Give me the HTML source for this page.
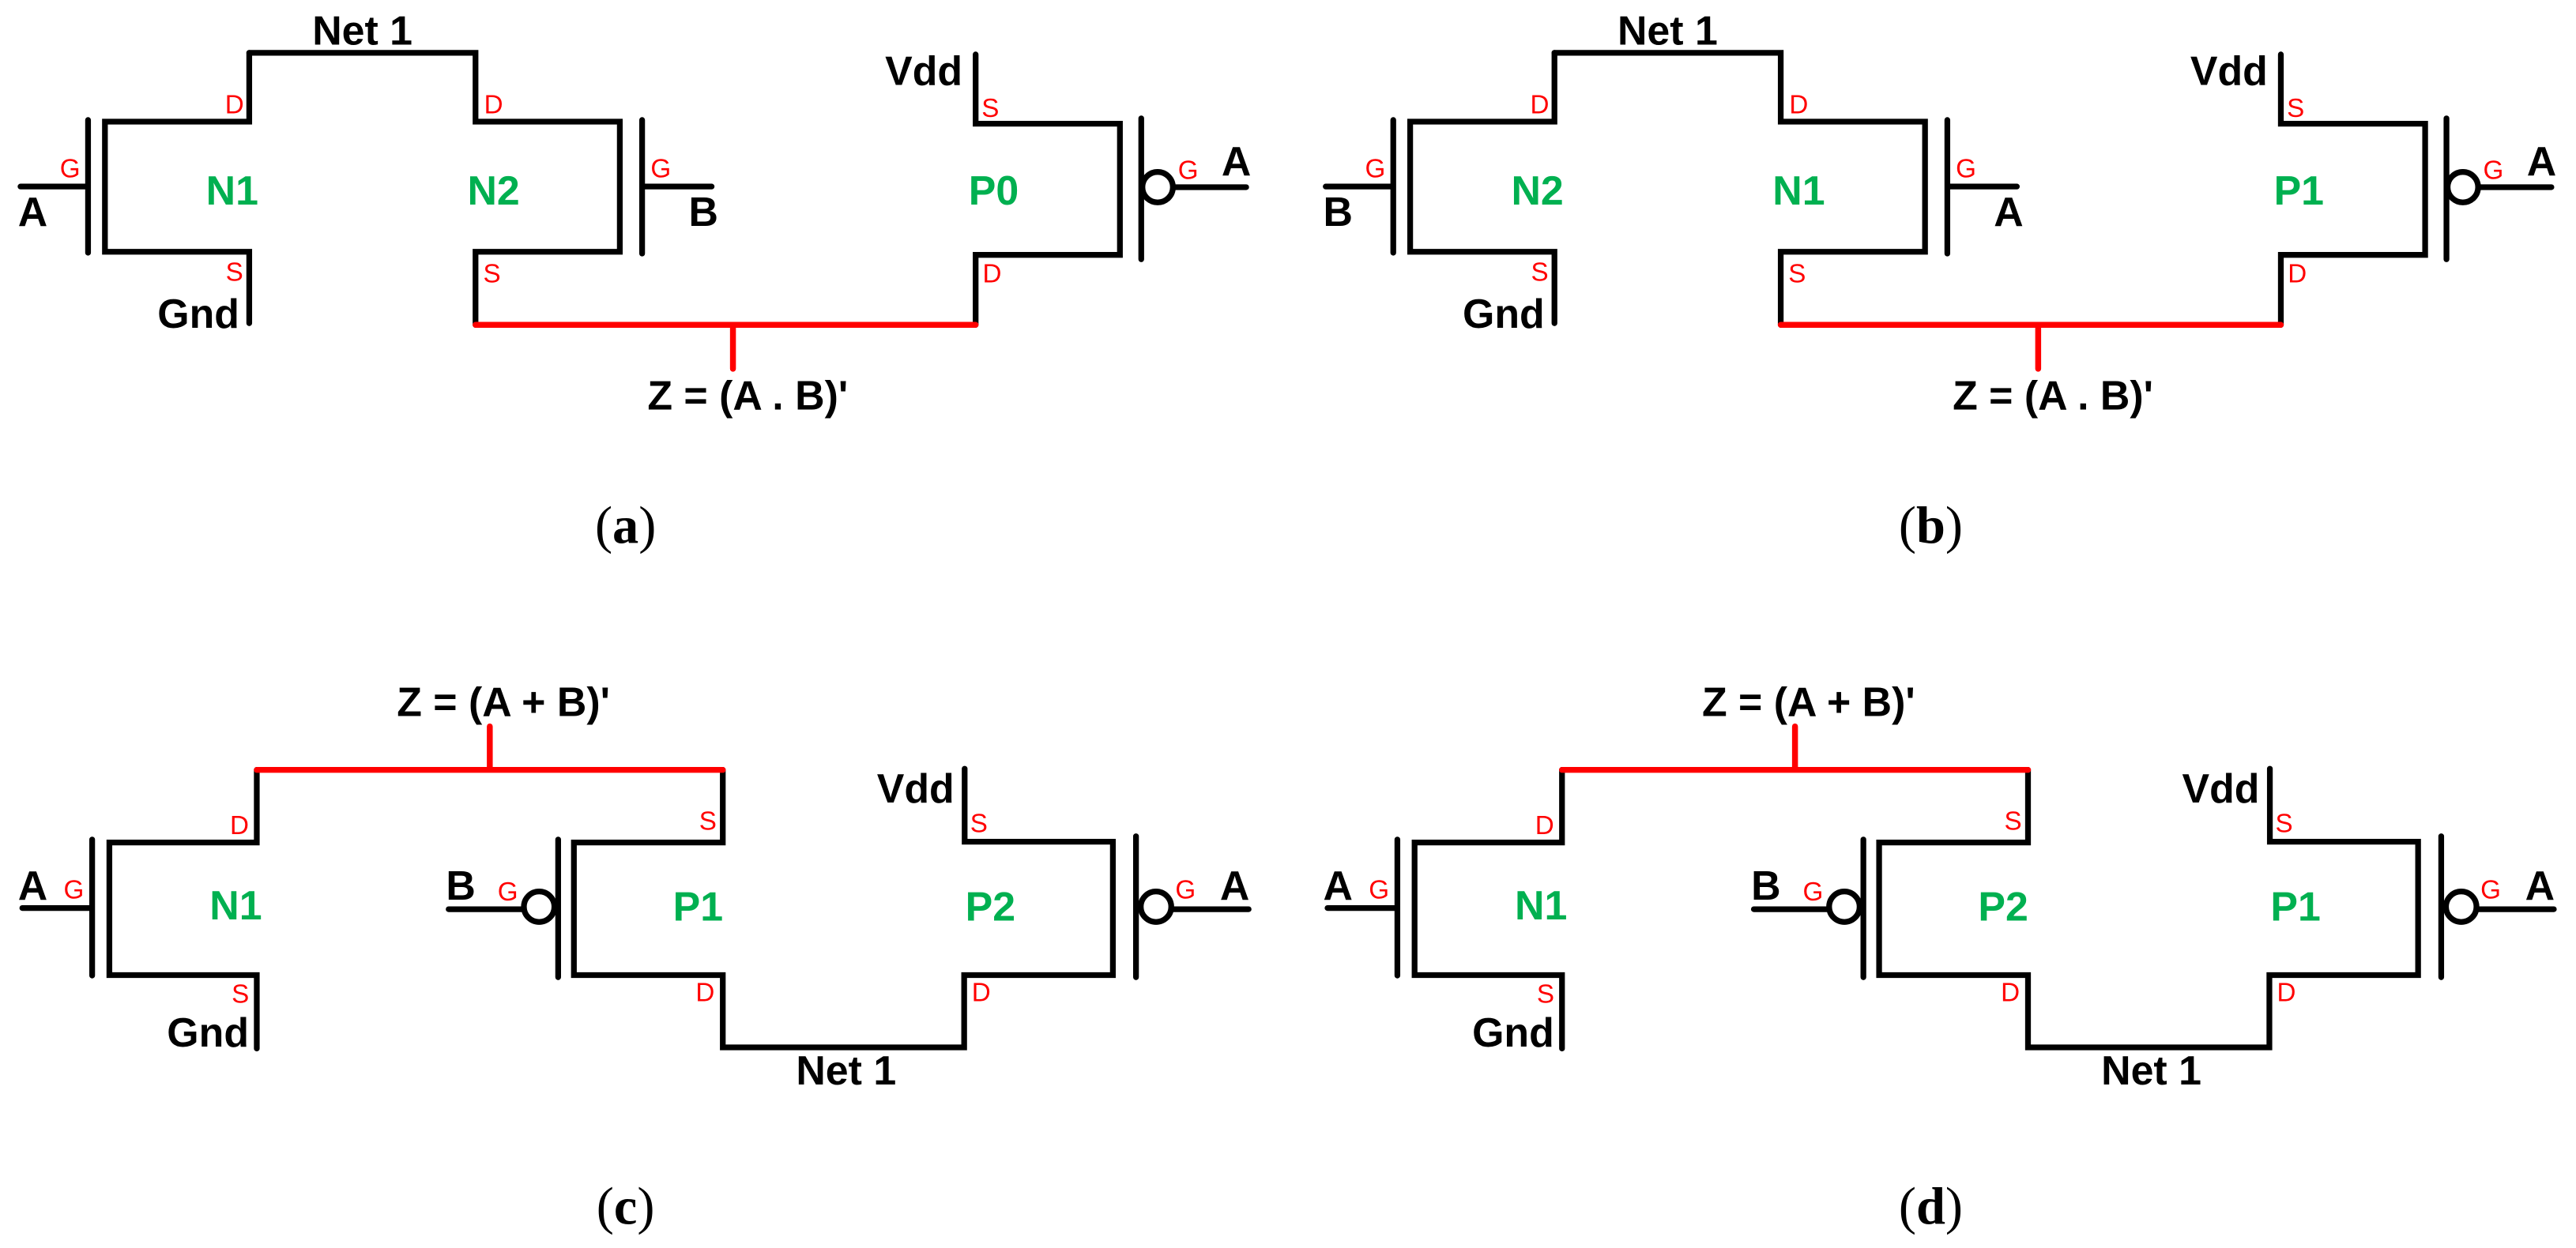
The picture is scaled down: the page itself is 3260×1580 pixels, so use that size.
<!DOCTYPE html>
<html><head><meta charset="utf-8"><style>
html,body{margin:0;padding:0;background:#fff;}
svg{display:block}
text{font-family:"Liberation Sans",sans-serif;}
.b{font-weight:bold;font-size:25px;fill:#000;}
.g{font-weight:bold;font-size:25px;fill:#00B050;}
.r{font-size:16px;fill:#ff0000;}
.cap{font-family:"Liberation Serif",serif;font-size:32px;fill:#000;}
.k{stroke:#000;stroke-width:3.5;fill:none;stroke-linecap:round;stroke-linejoin:miter;}
.red{stroke:#ff0000;stroke-width:3.6;fill:none;stroke-linecap:round;}
</style></head><body>
<svg width="3260" height="1580" viewBox="0 0 1571 761" xmlns="http://www.w3.org/2000/svg">
<defs>
<g id="topwires">
  <path class="k" d="M12.5,113.6 H53.7 M53.7,73 V154 M152,32 V74 H64 V153.4 H152 V197"/>
  <path class="k" d="M152,32 H290 V74 H378 V153.4 H290 V198 M391.6,73 V154.5 M391.6,113.6 H434"/>
  <path class="k" d="M595,33 V75.3 H683 V155.3 H595 V198 M696,72 V158"/>
  <circle cx="706" cy="114" r="9.3" fill="none" stroke="#000" stroke-width="3.5"/>
  <path class="k" d="M715.5,114 H760"/>
  <path class="red" d="M290,198 H595 M447,198 V224.8"/>
  <text class="r" x="143" y="64" text-anchor="middle" dominant-baseline="central">D</text>
  <text class="r" x="301" y="64" text-anchor="middle" dominant-baseline="central">D</text>
  <text class="r" x="143" y="166" text-anchor="middle" dominant-baseline="central">S</text>
  <text class="r" x="300" y="167" text-anchor="middle" dominant-baseline="central">S</text>
  <text class="r" x="604" y="66" text-anchor="middle" dominant-baseline="central">S</text>
  <text class="r" x="605" y="167" text-anchor="middle" dominant-baseline="central">D</text>
  <text class="r" x="42.7" y="103" text-anchor="middle" dominant-baseline="central">G</text>
  <text class="r" x="403" y="103" text-anchor="middle" dominant-baseline="central">G</text>
  <text class="r" x="724.6" y="104" text-anchor="middle" dominant-baseline="central">G</text>
  <text class="b" x="221" y="18.3" text-anchor="middle" dominant-baseline="central">Net 1</text>
  <text class="b" x="587" y="43" text-anchor="end" dominant-baseline="central">Vdd</text>
  <text class="b" x="146" y="191" text-anchor="end" dominant-baseline="central">Gnd</text>
  <text class="b" x="456" y="241" text-anchor="middle" dominant-baseline="central">Z = (A . B)'</text>
  <text class="b" x="754" y="98" text-anchor="middle" dominant-baseline="central">A</text>
</g>
<g id="botwires">
  <path class="k" d="M13.6,553.8 H56.2 M56.2,512 V595 M156.6,469.5 V513.8 H66.7 V594.7 H156.6 V639.5"/>
  <path class="k" d="M440.8,469.5 V513.8 H350 V594.7 H440.8 V638.8 H588 V594.7 H678.7 V513.3 H588.3 V468.8"/>
  <path class="k" d="M340.4,512 V596 M273.6,554.5 H319"/>
  <circle cx="328.8" cy="553" r="9.3" fill="none" stroke="#000" stroke-width="3.5"/>
  <path class="k" d="M692.8,510 V596 M715,554.5 H761.5"/>
  <circle cx="705" cy="553" r="9.3" fill="none" stroke="#000" stroke-width="3.5"/>
  <path class="red" d="M156.6,469.5 H440.8 M298.7,443 V469.5"/>
  <text class="b" x="307" y="428" text-anchor="middle" dominant-baseline="central">Z = (A + B)'</text>
  <text class="r" x="146" y="503.6" text-anchor="middle" dominant-baseline="central">D</text>
  <text class="r" x="146.6" y="606.6" text-anchor="middle" dominant-baseline="central">S</text>
  <text class="r" x="45" y="543" text-anchor="middle" dominant-baseline="central">G</text>
  <text class="r" x="309.7" y="544" text-anchor="middle" dominant-baseline="central">G</text>
  <text class="r" x="431.7" y="501" text-anchor="middle" dominant-baseline="central">S</text>
  <text class="r" x="430" y="605.5" text-anchor="middle" dominant-baseline="central">D</text>
  <text class="r" x="597" y="502.5" text-anchor="middle" dominant-baseline="central">S</text>
  <text class="r" x="598.4" y="605.5" text-anchor="middle" dominant-baseline="central">D</text>
  <text class="r" x="723" y="543" text-anchor="middle" dominant-baseline="central">G</text>
  <text class="b" x="20" y="540" text-anchor="middle" dominant-baseline="central">A</text>
  <text class="b" x="281" y="540" text-anchor="middle" dominant-baseline="central">B</text>
  <text class="b" x="753" y="540" text-anchor="middle" dominant-baseline="central">A</text>
  <text class="b" x="582" y="480.7" text-anchor="end" dominant-baseline="central">Vdd</text>
  <text class="b" x="151.8" y="629.7" text-anchor="end" dominant-baseline="central">Gnd</text>
  <text class="b" x="516" y="652.7" text-anchor="middle" dominant-baseline="central">Net 1</text>
  <text class="g" x="143.8" y="552" text-anchor="middle" dominant-baseline="central">N1</text>
</g>
</defs>

<use href="#topwires"/>
<text class="b" x="20" y="129" text-anchor="middle" dominant-baseline="central">A</text>
<text class="b" x="429" y="129" text-anchor="middle" dominant-baseline="central">B</text>
<text class="g" x="141.6" y="116" text-anchor="middle" dominant-baseline="central">N1</text>
<text class="g" x="301" y="116" text-anchor="middle" dominant-baseline="central">N2</text>
<text class="g" x="606" y="116" text-anchor="middle" dominant-baseline="central">P0</text>
<text class="cap" x="381.5" y="320.6" text-anchor="middle" dominant-baseline="central">(<tspan font-weight="bold">a</tspan>)</text>

<g transform="translate(796,0)">
<use href="#topwires"/>
<text class="b" x="20" y="129" text-anchor="middle" dominant-baseline="central">B</text>
<text class="b" x="429" y="129" text-anchor="middle" dominant-baseline="central">A</text>
<text class="g" x="141.6" y="116" text-anchor="middle" dominant-baseline="central">N2</text>
<text class="g" x="301" y="116" text-anchor="middle" dominant-baseline="central">N1</text>
<text class="g" x="606" y="116" text-anchor="middle" dominant-baseline="central">P1</text>
<text class="cap" x="381.5" y="320.6" text-anchor="middle" dominant-baseline="central">(<tspan font-weight="bold">b</tspan>)</text>
</g>

<use href="#botwires"/>
<text class="g" x="425.7" y="552.7" text-anchor="middle" dominant-baseline="central">P1</text>
<text class="g" x="604" y="552.7" text-anchor="middle" dominant-baseline="central">P2</text>
<text class="cap" x="381.5" y="736" text-anchor="middle" dominant-baseline="central">(<tspan font-weight="bold">c</tspan>)</text>

<g transform="translate(796,0)">
<use href="#botwires"/>
<text class="g" x="425.7" y="552.7" text-anchor="middle" dominant-baseline="central">P2</text>
<text class="g" x="604" y="552.7" text-anchor="middle" dominant-baseline="central">P1</text>
<text class="cap" x="381.5" y="736" text-anchor="middle" dominant-baseline="central">(<tspan font-weight="bold">d</tspan>)</text>
</g>
</svg>
</body></html>
